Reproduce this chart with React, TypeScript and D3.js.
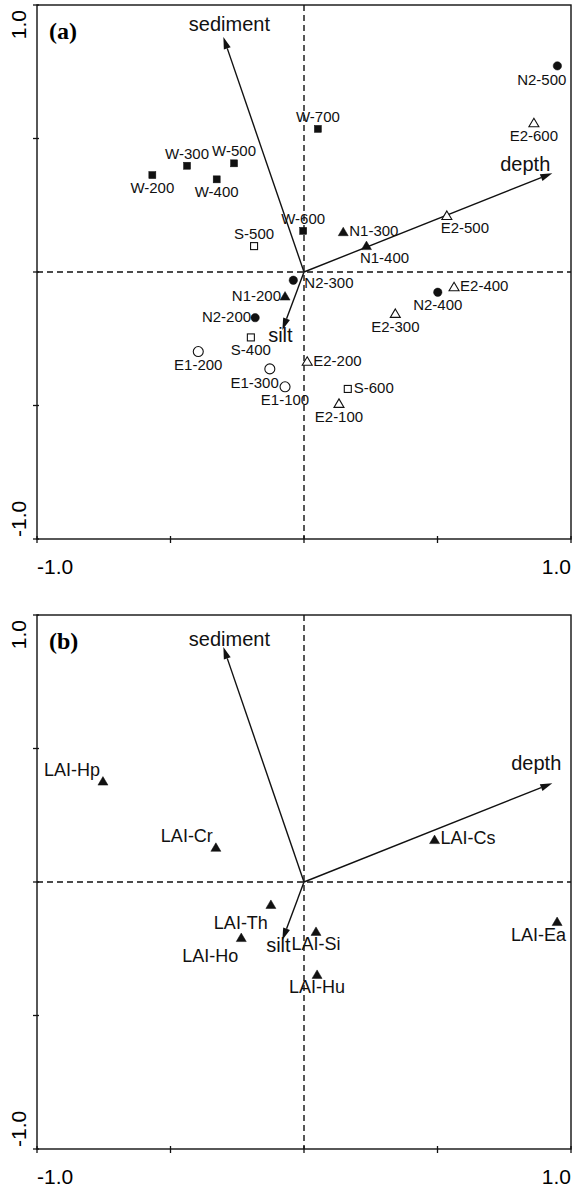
import React, { useEffect, useRef } from 'react';
import * as d3 from 'd3';

// Sites (panel a): names, ordination scores and label placement
const siteNames = [
  'W-200', 'W-300', 'W-400', 'W-500', 'W-600', 'W-700',
  'S-400', 'S-500', 'S-600',
  'N1-200', 'N1-300', 'N1-400',
  'N2-200', 'N2-300', 'N2-400', 'N2-500',
  'E1-100', 'E1-200', 'E1-300',
  'E2-100', 'E2-200', 'E2-300', 'E2-400', 'E2-500', 'E2-600'
];
const siteAxis1 = [
  -0.568, -0.438, -0.327, -0.262, -0.003, 0.052,
  -0.199, -0.187, 0.164,
  -0.071, 0.147, 0.234,
  -0.183, -0.040, 0.501, 0.949,
  -0.071, -0.396, -0.128,
  0.131, 0.012, 0.342, 0.562, 0.535, 0.861
];
const siteAxis2 = [
  0.363, 0.398, 0.347, 0.407, 0.154, 0.536,
  -0.245, 0.097, -0.438,
  -0.092, 0.149, 0.097,
  -0.171, -0.031, -0.076, 0.772,
  -0.430, -0.298, -0.363,
  -0.494, -0.336, -0.157, -0.057, 0.210, 0.557
];
const siteLabelPos = [
  'below', 'above', 'below', 'above', 'above', 'above',
  'below', 'above', 'right',
  'left', 'right', 'belowRight',
  'left', 'rightLow', 'below', 'belowLeft',
  'below', 'below', 'belowLeft',
  'below', 'right', 'below', 'right', 'belowRight', 'below'
];

// Species (panel b)
const speciesNames = ['LAI-Hp', 'LAI-Cr', 'LAI-Th', 'LAI-Ho', 'LAI-Si', 'LAI-Hu', 'LAI-Cs', 'LAI-Ea'];
const speciesAxis1 = [-0.753, -0.330, -0.124, -0.235, 0.045, 0.049, 0.489, 0.948];
const speciesAxis2 = [0.376, 0.128, -0.086, -0.210, -0.187, -0.348, 0.157, -0.150];
const speciesLabelPos = ['upperLeft', 'upperLeft', 'lowerLeft', 'lowerLeft', 'below', 'below', 'right', 'belowLeft'];

// Environmental variables (biplot arrows)
const envNames = ['sediment', 'depth', 'silt'];
const envAxis1 = [-0.302, 0.930, -0.081];
const envAxis2 = [0.880, 0.370, -0.217];

const axisDomain: [number, number] = [-1, 1];

const placements: Record<string, { anchor: string; dx: number; dy: number }> = {
  above: { anchor: 'middle', dx: 0, dy: -7 },
  below: { anchor: 'middle', dx: 0, dy: 18 },
  belowRight: { anchor: 'middle', dx: 18, dy: 17 },
  belowLeft: { anchor: 'end', dx: 9, dy: 19 },
  right: { anchor: 'start', dx: 6, dy: 4 },
  rightLow: { anchor: 'start', dx: 11, dy: 8 },
  left: { anchor: 'end', dx: -4, dy: 4 },
  upperLeft: { anchor: 'end', dx: -3, dy: -6 },
  lowerLeft: { anchor: 'end', dx: -3, dy: 24 }
};

type Pt = { name: string; x: number; y: number; pos: string };

const sites: Pt[] = siteNames.map((n, i) => ({ name: n, x: siteAxis1[i], y: siteAxis2[i], pos: siteLabelPos[i] }));
const species: Pt[] = speciesNames.map((n, i) => ({ name: n, x: speciesAxis1[i], y: speciesAxis2[i], pos: speciesLabelPos[i] }));
const envVars = envNames.map((n, i) => ({ name: n, x: envAxis1[i], y: envAxis2[i] }));

const FONT = '"Liberation Sans", Arial, Helvetica, sans-serif';

const markerFor = (name: string) => {
  if (name.startsWith('W-')) return 'fsquare';
  if (name.startsWith('S-')) return 'osquare';
  if (name.startsWith('N1-')) return 'ftri';
  if (name.startsWith('N2-')) return 'fcircle';
  if (name.startsWith('E1-')) return 'ocircle';
  if (name.startsWith('E2-')) return 'otri';
  return 'ftri';
};

const App: React.FC = () => {
  const svgRef = useRef<SVGSVGElement>(null);

  useEffect(() => {
    const svg = d3.select(svgRef.current);
    svg.selectAll('*').remove();

    const left = 37;
    const size = 534;

    const panels = [
      {
        top: 5, tag: '(a)', points: sites, labelSize: 15,
        envLabel: {
          sediment: { anchor: 'middle', dx: 6, dy: -6 },
          depth: { anchor: 'end', dx: -2, dy: -2 },
          silt: { anchor: 'middle', dx: -2, dy: 12 }
        } as Record<string, { anchor: string; dx: number; dy: number }>
      },
      {
        top: 615, tag: '(b)', points: species, labelSize: 18,
        envLabel: {
          sediment: { anchor: 'middle', dx: 6, dy: -1 },
          depth: { anchor: 'end', dx: 9, dy: -13 },
          silt: { anchor: 'middle', dx: -4, dy: 12 }
        } as Record<string, { anchor: string; dx: number; dy: number }>
      }
    ];

    panels.forEach(p => {
      const x = d3.scaleLinear().domain(axisDomain).range([left, left + size]);
      const y = d3.scaleLinear().domain(axisDomain).range([p.top + size, p.top]);
      const g = svg.append('g');

      // frame
      g.append('rect')
        .attr('x', x(-1)).attr('y', y(1))
        .attr('width', x(1) - x(-1)).attr('height', y(-1) - y(1))
        .attr('fill', 'none').attr('stroke', '#111').attr('stroke-width', 1.4);

      // ticks
      x.ticks(4).forEach(t => {
        g.append('line')
          .attr('x1', x(t)).attr('x2', x(t))
          .attr('y1', y(-1) - 3).attr('y2', y(-1) + 4)
          .attr('stroke', '#111').attr('stroke-width', 1.3);
      });
      y.ticks(4).forEach(t => {
        g.append('line')
          .attr('x1', x(-1) - 4).attr('x2', x(-1) + 2)
          .attr('y1', y(t)).attr('y2', y(t))
          .attr('stroke', '#111').attr('stroke-width', 1.3);
      });

      // tick labels
      g.append('text')
        .attr('x', x(-1)).attr('y', y(-1) + 35)
        .attr('text-anchor', 'start')
        .style('font-family', FONT).style('font-size', '21px')
        .text('-1.0');
      g.append('text')
        .attr('x', x(1)).attr('y', y(-1) + 35)
        .attr('text-anchor', 'end')
        .style('font-family', FONT).style('font-size', '21px')
        .text('1.0');
      g.append('text')
        .attr('transform', `translate(26,${y(1) + 5}) rotate(-90)`)
        .attr('text-anchor', 'end')
        .style('font-family', FONT).style('font-size', '21px')
        .text('1.0');
      g.append('text')
        .attr('transform', `translate(26,${y(-1) - 2}) rotate(-90)`)
        .attr('text-anchor', 'start')
        .style('font-family', FONT).style('font-size', '21px')
        .text('-1.0');

      // dashed zero lines
      g.append('line')
        .attr('x1', x(-1)).attr('x2', x(1))
        .attr('y1', y(0)).attr('y2', y(0))
        .attr('stroke', '#111').attr('stroke-width', 1.4)
        .attr('stroke-dasharray', '6,4');
      g.append('line')
        .attr('x1', x(0)).attr('x2', x(0))
        .attr('y1', y(1)).attr('y2', y(-1))
        .attr('stroke', '#111').attr('stroke-width', 1.4)
        .attr('stroke-dasharray', '6,4');

      // panel tag
      g.append('text')
        .attr('x', x(-1) + 12).attr('y', y(1) + 34)
        .style('font-family', '"Liberation Serif", "Times New Roman", serif')
        .style('font-weight', 'bold')
        .style('font-size', '24px')
        .text(p.tag);

      // arrows
      envVars.forEach(v => {
        const x0 = x(0), y0 = y(0);
        const x1 = x(v.x), y1 = y(v.y);
        const ang = Math.atan2(y1 - y0, x1 - x0);
        const headLen = 12, headHalf = 3.6;
        const bx = x1 - headLen * Math.cos(ang), by = y1 - headLen * Math.sin(ang);
        g.append('line')
          .attr('x1', x0).attr('y1', y0).attr('x2', bx).attr('y2', by)
          .attr('stroke', '#111').attr('stroke-width', 1.4);
        const px = -Math.sin(ang), py = Math.cos(ang);
        g.append('path')
          .attr('d', `M${x1},${y1}L${bx + px * headHalf},${by + py * headHalf}L${bx - px * headHalf},${by - py * headHalf}Z`)
          .attr('fill', '#111');
        const lp = p.envLabel[v.name];
        g.append('text')
          .attr('x', x1 + lp.dx).attr('y', y1 + lp.dy)
          .attr('text-anchor', lp.anchor)
          .style('font-family', FONT).style('font-size', '20px')
          .attr('fill', '#111')
          .text(v.name);
      });

      // points
      p.points.forEach(d => {
        const cx = x(d.x), cy = y(d.y);
        const m = markerFor(d.name);
        if (m === 'fsquare' || m === 'osquare') {
          g.append('rect')
            .attr('x', cx - 3.5).attr('y', cy - 3.5).attr('width', 7).attr('height', 7)
            .attr('fill', m === 'fsquare' ? '#111' : '#fff')
            .attr('stroke', '#111').attr('stroke-width', m === 'fsquare' ? 0.5 : 1.1);
        } else if (m === 'fcircle' || m === 'ocircle') {
          g.append('circle')
            .attr('cx', cx).attr('cy', cy).attr('r', m === 'fcircle' ? 4.2 : 5)
            .attr('fill', m === 'fcircle' ? '#111' : '#fff')
            .attr('stroke', '#111').attr('stroke-width', m === 'fcircle' ? 0.5 : 1.1);
        } else {
          g.append('path')
            .attr('d', `M${cx},${cy - 5}L${cx + 5},${cy + 3.5}L${cx - 5},${cy + 3.5}Z`)
            .attr('fill', m === 'ftri' ? '#111' : '#fff')
            .attr('stroke', '#111').attr('stroke-width', m === 'ftri' ? 0.5 : 1.1);
        }
        const lp = placements[d.pos];
        g.append('text')
          .attr('x', cx + lp.dx).attr('y', cy + lp.dy)
          .attr('text-anchor', lp.anchor)
          .style('font-family', FONT).style('font-size', `${p.labelSize}px`)
          .attr('fill', '#111')
          .text(d.name);
      });
    });
  }, []);

  return (
    <div style={{ position: 'absolute', left: 0, top: 0, background: '#fff' }}>
      <svg ref={svgRef} width={573} height={1189} style={{ display: 'block' }}></svg>
    </div>
  );
};

export default App;
